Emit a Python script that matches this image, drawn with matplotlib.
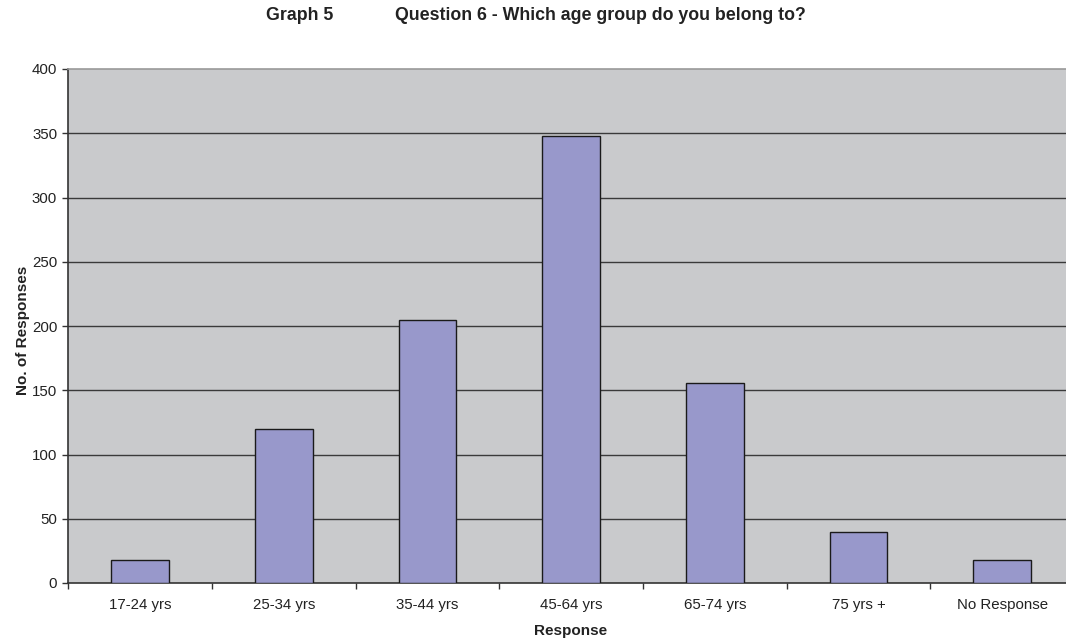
import matplotlib
matplotlib.use("Agg")
import matplotlib.pyplot as plt
import numpy as np

plt.rcParams['font.family'] = ['Liberation Sans', 'DejaVu Sans']

categories = ["17-24 yrs", "25-34 yrs", "35-44 yrs", "45-64 yrs", "65-74 yrs", "75 yrs +", "No Response"]
responses = [18, 120, 205, 348, 156, 40, 18]
y_ticks = [0, 50, 100, 150, 200, 250, 300, 350, 400]

W, H = 1066, 639
fig = plt.figure(figsize=(W / 100, H / 100), dpi=100)

# plot area runs slightly past the right edge of the figure
left, right, top, bottom = 68.3, 1074.0, 69.0, 583.0
ax = fig.add_axes([left / W, 1 - bottom / H, (right - left) / W, (bottom - top) / H])
ax.set_facecolor('#C9CACC')

x = np.arange(len(categories))
ax.bar(x, responses, width=0.4, color='#9898CB', edgecolor='#1a1a1a', linewidth=1.0, zorder=3)

ax.set_xlim(-0.5, len(categories) - 0.5)
ax.set_ylim(0, 400)
ax.set_yticks(y_ticks)
ax.set_yticklabels([str(v) for v in y_ticks], fontsize=10.8, color='#222222')
for v in y_ticks[1:-1]:
    ax.axhline(v, color='#3a3a3a', linewidth=1.0, zorder=1)

# category labels centred, ticks on the category boundaries
ax.set_xticks(x)
ax.set_xticklabels(categories, fontsize=10.8, color='#222222')
ax.tick_params(axis='x', which='major', length=0, pad=11)
ax.set_xticks(np.arange(len(categories) + 1) - 0.5, minor=True)
ax.tick_params(axis='x', which='minor', length=4, width=1, color='#333333', direction='out')
ax.tick_params(axis='y', length=4, width=1, color='#333333', direction='out', pad=4)

for side in ['left', 'bottom']:
    ax.spines[side].set_color('#333333')
    ax.spines[side].set_linewidth(1.2)
ax.spines['top'].set_color('#999999')
ax.spines['top'].set_linewidth(1.2)
ax.spines['right'].set_visible(False)

fig.text(571 / W, 1 - 631 / H, "Response", fontsize=11, fontweight='bold',
         ha='center', va='center', color='#222222')
fig.text(23 / W, 1 - 330 / H, "No. of Responses", fontsize=11, fontweight='bold',
         rotation=90, ha='center', va='center', color='#222222')

fig.text(266 / W, 1 - 15 / H, "Graph 5", fontsize=12.8, fontweight='bold', va='center', ha='left', color='#222222')
fig.text(395 / W, 1 - 15 / H, "Question 6 - Which age group do you belong to?", fontsize=12.8,
         fontweight='bold', va='center', ha='left', color='#222222')

fig.savefig("out.png", dpi=100)
